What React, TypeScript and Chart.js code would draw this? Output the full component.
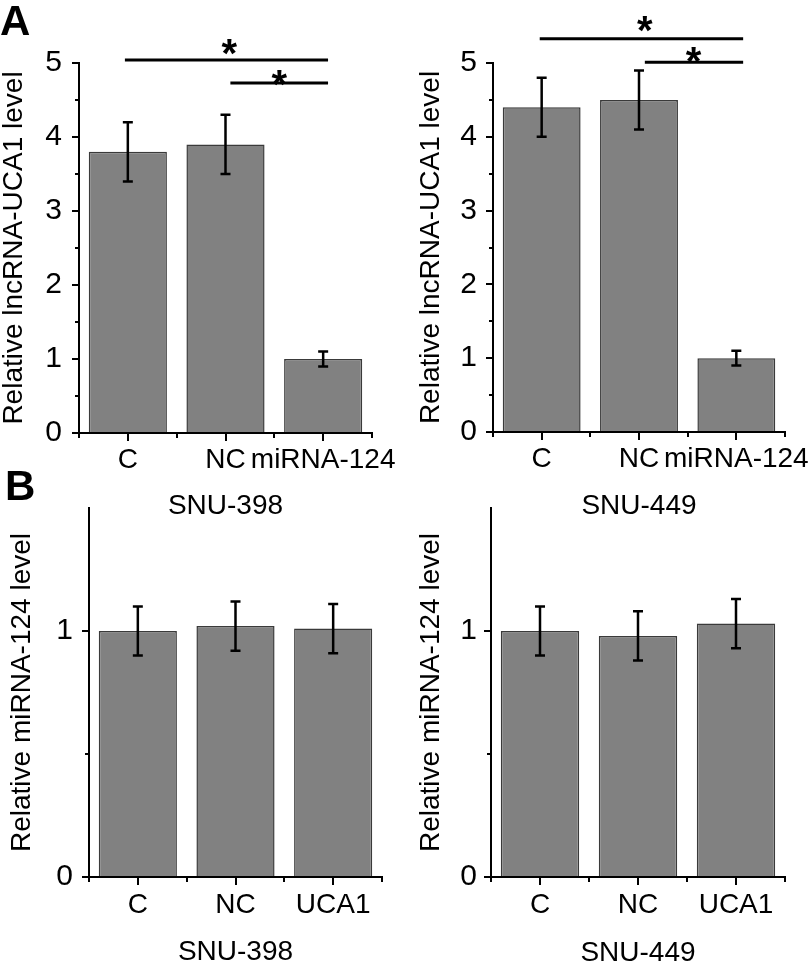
import React, { useEffect, useRef } from 'react';
import { Chart, registerables } from 'chart.js';

Chart.register(...registerables);

const FONT = "'Liberation Sans', Arial, Helvetica, sans-serif";

// ---------- data ----------
const groupsA = ['C', 'NC', 'miRNA-124'];
const groupsB = ['C', 'NC', 'UCA1'];

const uca1SNU398 = [3.8, 3.9, 1.0];
const uca1SNU398Err = [0.4, 0.4, 0.1];
const uca1SNU449 = [4.4, 4.5, 1.0];
const uca1SNU449Err = [0.4, 0.4, 0.1];

const mir124SNU398 = [1.0, 1.02, 1.01];
const mir124SNU398Err = [0.1, 0.1, 0.1];
const mir124SNU449 = [1.0, 0.98, 1.03];
const mir124SNU449Err = [0.1, 0.1, 0.1];

const yTicksA = [0, 1, 2, 3, 4, 5];
const yMinorA = [0.5, 1.5, 2.5, 3.5, 4.5];
const yTicksB = [0, 1];
const yMinorB = [0.5];

// significance brackets (category index from/to, level in data units), stars
const sigFromA398 = [-0.03, 1.05];
const sigToA398 = [2.05, 2.05];
const sigLevelA398 = [5.04, 4.73];
const starXA398 = [1.04, 1.55];
const starLevelA398 = [5.26, 4.84];

const sigFromA449 = [-0.02, 1.06];
const sigToA449 = [2.07, 2.07];
const sigLevelA449 = [5.33, 5.01];
const starXA449 = [1.06, 1.56];
const starLevelA449 = [5.56, 5.14];

// ---------- plugin ----------
const decorPlugin = {
  id: 'decor',
  afterDatasetsDraw(chart: any, _args: any, opts: any) {
    const { ctx } = chart;
    const xs = chart.scales.x;
    const ys = chart.scales.y;
    const vals = chart.data.datasets[0].data as number[];
    ctx.save();
    ctx.strokeStyle = '#000';
    ctx.lineWidth = 2.5;
    (opts.errors || []).forEach((e: number, i: number) => {
      const cx = xs.getPixelForValue(i);
      const yt = ys.getPixelForValue(vals[i] + e);
      const yb = ys.getPixelForValue(vals[i] - e);
      ctx.beginPath();
      ctx.moveTo(cx, yt);
      ctx.lineTo(cx, yb);
      ctx.moveTo(cx - 5, yt);
      ctx.lineTo(cx + 5, yt);
      ctx.moveTo(cx - 5, yb);
      ctx.lineTo(cx + 5, yb);
      ctx.stroke();
    });
    ctx.restore();
  },
  afterDraw(chart: any, _args: any, opts: any) {
    const { ctx, chartArea } = chart;
    const xs = chart.scales.x;
    const ys = chart.scales.y;
    ctx.save();
    ctx.strokeStyle = '#000';
    ctx.fillStyle = '#000';
    ctx.lineWidth = 2;
    // minor y ticks
    (opts.yMinor || []).forEach((v: number) => {
      const py = Math.round(ys.getPixelForValue(v));
      ctx.beginPath();
      ctx.moveTo(chartArea.left - 4, py);
      ctx.lineTo(chartArea.left, py);
      ctx.stroke();
    });
    // minor x ticks at category boundaries
    const n = chart.data.labels.length;
    for (let i = 0; i <= n; i++) {
      const px = Math.round(xs.getPixelForValue(i - 0.5));
      ctx.beginPath();
      ctx.moveTo(px, chartArea.bottom);
      ctx.lineTo(px, chartArea.bottom + 5);
      ctx.stroke();
    }
    // significance brackets
    const sig = opts.sig;
    if (sig) {
      ctx.lineWidth = 3;
      sig.from.forEach((f: number, k: number) => {
        const y = ys.getPixelForValue(sig.level[k]);
        ctx.beginPath();
        ctx.moveTo(xs.getPixelForValue(f), y);
        ctx.lineTo(xs.getPixelForValue(sig.to[k]), y);
        ctx.stroke();
      });
      const size = 40;
      ctx.font = `bold ${size}px ${FONT}`;
      ctx.textAlign = 'center';
      ctx.textBaseline = 'alphabetic';
      sig.starX.forEach((sx: number, k: number) => {
        const cy = ys.getPixelForValue(sig.starLevel[k]);
        ctx.fillText('*', xs.getPixelForValue(sx), cy + size * 0.57);
      });
    }
    ctx.restore();
  },
};

// ---------- panel ----------
type Geo = {
  padTop: number;
  padRight: number;
  yWidth: number;
  xHeight: number;
  yTitlePad: number;
  yTickPad: number;
  xTickPad: number;
  xTitlePad: number;
};

type PanelProps = {
  left: number;
  top: number;
  width: number;
  height: number;
  labels: string[];
  values: number[];
  errors: number[];
  yMax: number;
  yTicks: number[];
  yMinor: number[];
  yTitle: string;
  xTitle: string;
  sig?: any;
  geo: Geo;
};

function Panel(p: PanelProps) {
  const ref = useRef<HTMLCanvasElement | null>(null);
  useEffect(() => {
    if (!ref.current) return;
    const g = p.geo;
    const font = { family: FONT, size: 28, lineHeight: 1 };
    const yTickFont = { family: FONT, size: 30, lineHeight: 1 };
    const chart = new Chart(ref.current, {
      type: 'bar',
      data: {
        labels: p.labels,
        datasets: [
          {
            data: p.values,
            backgroundColor: '#818181',
            borderColor: '#3a3a3a',
            borderWidth: 1.5,
            barPercentage: 0.8,
            categoryPercentage: 1,
          },
        ],
      },
      plugins: [decorPlugin as any],
      options: {
        animation: false,
        responsive: false,
        maintainAspectRatio: false,
        events: [],
        layout: { padding: { top: g.padTop, right: g.padRight, bottom: 0, left: 0 } },
        plugins: {
          legend: { display: false },
          tooltip: { enabled: false },
          decor: { errors: p.errors, yMinor: p.yMinor, sig: p.sig },
        } as any,
        scales: {
          x: {
            type: 'category',
            offset: true,
            grid: {
              display: true,
              drawOnChartArea: false,
              drawTicks: true,
              tickLength: 8,
              offset: false,
              color: '#000',
              lineWidth: 2,
            },
            border: { display: true, color: '#000', width: 2 },
            ticks: {
              color: '#000',
              font,
              padding: g.xTickPad,
              maxRotation: 0,
              minRotation: 0,
              autoSkip: false,
            },
            title: {
              display: true,
              text: p.xTitle,
              color: '#000',
              font,
              padding: { top: 0, bottom: g.xTitlePad },
            },
            afterFit: (s: any) => {
              s.height = g.xHeight;
              s.paddingLeft = 0;
              s.paddingRight = 0;
            },
          } as any,
          y: {
            min: 0,
            max: p.yMax,
            grid: {
              display: true,
              drawOnChartArea: false,
              drawTicks: true,
              tickLength: 7,
              color: '#000',
              lineWidth: 2,
            },
            border: { display: true, color: '#000', width: 2 },
            ticks: { color: '#000', font: yTickFont, padding: g.yTickPad },
            afterBuildTicks: (s: any) => {
              s.ticks = p.yTicks.map((v) => ({ value: v }));
            },
            title: {
              display: true,
              text: p.yTitle,
              color: '#000',
              font,
              padding: { top: g.yTitlePad, bottom: 0 },
            },
            afterFit: (s: any) => {
              s.width = g.yWidth;
              s.paddingTop = 0;
              s.paddingBottom = 0;
            },
          } as any,
        },
      },
    });
    return () => chart.destroy();
  }, []);
  return (
    <canvas
      ref={ref}
      width={p.width}
      height={p.height}
      style={{ position: 'absolute', left: p.left, top: p.top, width: p.width, height: p.height }}
    />
  );
}

const letterStyle: React.CSSProperties = {
  position: 'absolute',
  fontFamily: FONT,
  fontWeight: 'bold',
  fontSize: 42,
  lineHeight: '42px',
  color: '#000',
};

export default function App() {
  return (
    <div style={{ position: 'absolute', left: 0, top: 0, width: 810, height: 972, background: '#fff', overflow: 'hidden' }}>
      <Panel
        left={0}
        top={0}
        width={405}
        height={525}
        labels={groupsA}
        values={uca1SNU398}
        errors={uca1SNU398Err}
        yMax={5}
        yTicks={yTicksA}
        yMinor={yMinorA}
        yTitle="Relative lncRNA-UCA1 level"
        xTitle="SNU-398"
        sig={{ from: sigFromA398, to: sigToA398, level: sigLevelA398, starX: starXA398, starLevel: starLevelA398 }}
        geo={{ padTop: 63, padRight: 33, yWidth: 79, xHeight: 92, yTitlePad: 0, yTickPad: 10, xTickPad: 5, xTitlePad: 5 }}
      />
      <Panel
        left={405}
        top={0}
        width={405}
        height={525}
        labels={groupsA}
        values={uca1SNU449}
        errors={uca1SNU449Err}
        yMax={5}
        yTicks={yTicksA}
        yMinor={yMinorA}
        yTitle="Relative lncRNA-UCA1 level"
        xTitle="SNU-449"
        sig={{ from: sigFromA449, to: sigToA449, level: sigLevelA449, starX: starXA449, starLevel: starLevelA449 }}
        geo={{ padTop: 63, padRight: 25, yWidth: 88, xHeight: 93, yTitlePad: 12, yTickPad: 9, xTickPad: 5, xTitlePad: 5 }}
      />
      <Panel
        left={0}
        top={490}
        width={405}
        height={482}
        labels={groupsB}
        values={mir124SNU398}
        errors={mir124SNU398Err}
        yMax={1.5}
        yTicks={yTicksB}
        yMinor={yMinorB}
        yTitle="Relative miRNA-124 level"
        xTitle="SNU-398"
        geo={{ padTop: 18, padRight: 23, yWidth: 89, xHeight: 95, yTitlePad: 8, yTickPad: 9, xTickPad: 6, xTitlePad: 6 }}
      />
      <Panel
        left={405}
        top={490}
        width={405}
        height={482}
        labels={groupsB}
        values={mir124SNU449}
        errors={mir124SNU449Err}
        yMax={1.5}
        yTicks={yTicksB}
        yMinor={yMinorB}
        yTitle="Relative miRNA-124 level"
        xTitle="SNU-449"
        geo={{ padTop: 18, padRight: 25, yWidth: 86, xHeight: 95, yTitlePad: 12, yTickPad: 7, xTickPad: 6, xTitlePad: 5 }}
      />
      <div style={{ ...letterStyle, left: 0, top: 0 }}>A</div>
      <div style={{ ...letterStyle, left: 5, top: 465 }}>B</div>
    </div>
  );
}
